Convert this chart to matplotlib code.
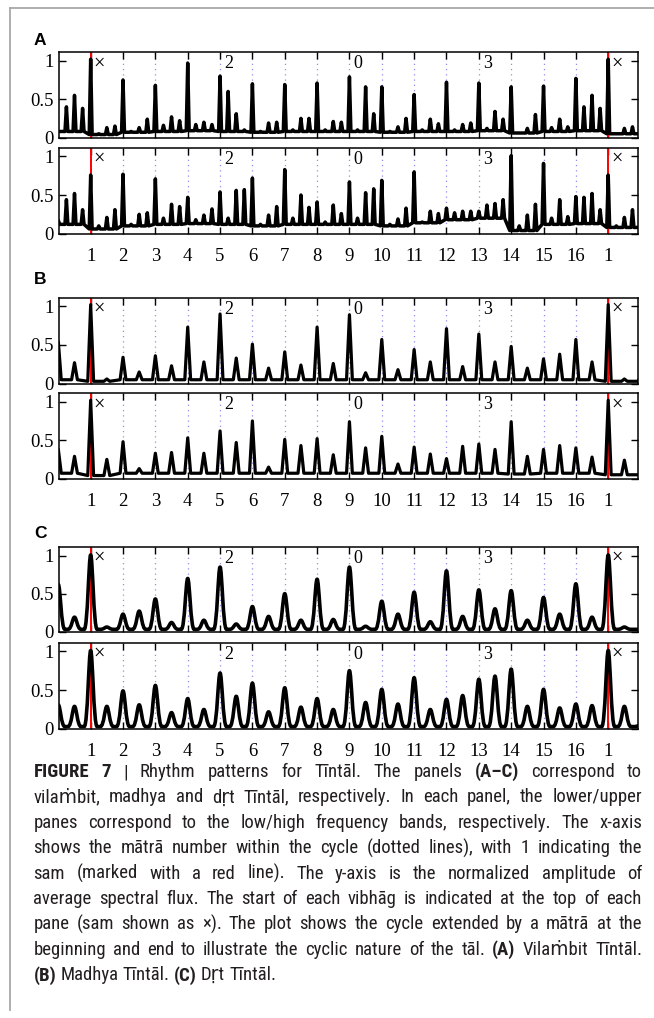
import matplotlib
matplotlib.use("Agg")
import matplotlib.pyplot as plt
from matplotlib import font_manager
from matplotlib.lines import Line2D
from matplotlib.path import Path
from matplotlib.patches import PathPatch

# ---- data ---------------------------------------------------------------
# peak heights on a grid of matra positions starting at 0
# vilambit: quarter-matra grid (0, .25, ... 18)
a_high = [0.08, 0.40, 0.55, 0.38,  1.02, 0.05, 0.13, 0.15,  0.75, 0.08, 0.13, 0.24,
          0.68, 0.16, 0.27, 0.22,  0.97, 0.17, 0.20, 0.17,  0.80, 0.60, 0.31, 0.10,
          0.70, 0.08, 0.19, 0.20,  0.69, 0.10, 0.25, 0.25,  0.71, 0.10, 0.21, 0.20,
          0.79, 0.10, 0.66, 0.31,  0.66, 0.08, 0.14, 0.25,  0.56, 0.10, 0.24, 0.18,
          0.72, 0.10, 0.17, 0.19,  0.71, 0.12, 0.34, 0.24,  0.66, 0.06, 0.12, 0.30,
          0.67, 0.13, 0.24, 0.14,  0.77, 0.40, 0.55, 0.38,  1.02, 0.05, 0.12, 0.14,
          0.10]
a_low = [0.17, 0.44, 0.52, 0.31,  0.76, 0.10, 0.21, 0.31,  0.77, 0.12, 0.25, 0.27,
         0.71, 0.20, 0.38, 0.35,  0.47, 0.18, 0.24, 0.32,  0.54, 0.20, 0.56, 0.57,
         0.72, 0.12, 0.24, 0.35,  0.83, 0.20, 0.50, 0.34,  0.41, 0.15, 0.37, 0.26,
         0.67, 0.20, 0.53, 0.58,  0.69, 0.12, 0.19, 0.33,  0.80, 0.15, 0.29, 0.26,
         0.33, 0.27, 0.29, 0.29,  0.29, 0.37, 0.39, 0.44,  1.01, 0.10, 0.24, 0.38,
         0.91, 0.20, 0.44, 0.22,  0.48, 0.47, 0.52, 0.31,  0.76, 0.10, 0.21, 0.31,
         0.15]
# madhya and drut: half-matra grid (0, .5, ... 18)
b_high = [0.54, 0.27, 1.02, 0.06, 0.34, 0.15, 0.36, 0.23, 0.73, 0.28, 0.90, 0.33,
          0.51, 0.20, 0.41, 0.24, 0.73, 0.26, 0.89, 0.14, 0.57, 0.18, 0.44, 0.28,
          0.71, 0.22, 0.64, 0.28, 0.48, 0.20, 0.32, 0.38, 0.57, 0.28, 1.02, 0.06,
          0.08]
b_low = [0.38, 0.29, 1.02, 0.25, 0.48, 0.13, 0.33, 0.34, 0.53, 0.33, 0.62, 0.47,
         0.75, 0.15, 0.51, 0.43, 0.52, 0.31, 0.74, 0.40, 0.55, 0.19, 0.41, 0.32,
         0.26, 0.42, 0.45, 0.38, 0.74, 0.29, 0.38, 0.43, 0.40, 0.28, 1.02, 0.24,
         0.05]
c_high = [0.62, 0.19, 1.01, 0.06, 0.23, 0.27, 0.43, 0.12, 0.70, 0.15, 0.85, 0.10,
          0.33, 0.20, 0.50, 0.15, 0.69, 0.16, 0.85, 0.07, 0.40, 0.23, 0.52, 0.13,
          0.80, 0.20, 0.55, 0.30, 0.54, 0.15, 0.45, 0.23, 0.63, 0.19, 1.01, 0.06,
          0.03]
c_low = [0.31, 0.29, 1.01, 0.29, 0.49, 0.31, 0.56, 0.21, 0.39, 0.25, 0.72, 0.42,
         0.59, 0.22, 0.53, 0.28, 0.39, 0.25, 0.75, 0.34, 0.51, 0.32, 0.66, 0.25,
         0.38, 0.43, 0.64, 0.68, 0.77, 0.29, 0.51, 0.27, 0.32, 0.30, 1.01, 0.29,
         0.05]

# trough level between peaks, one value per matra (0..17)
a_high_floor = [0.08, 0.04, 0.07, 0.08, 0.09, 0.08, 0.07, 0.08, 0.08, 0.08, 0.07, 0.08,
                0.08, 0.09, 0.06, 0.08, 0.09, 0.05]
a_low_floor = [0.12, 0.06, 0.10, 0.12, 0.13, 0.12, 0.10, 0.12, 0.12, 0.12, 0.10, 0.14,
               0.18, 0.20, 0.04, 0.12, 0.13, 0.08]
b_high_floor = [0.05, 0.03, 0.05, 0.05, 0.05, 0.05, 0.05, 0.05, 0.05, 0.05, 0.05, 0.05,
                0.05, 0.05, 0.05, 0.05, 0.05, 0.03]
b_low_floor = [0.07, 0.04, 0.07, 0.07, 0.07, 0.07, 0.07, 0.07, 0.07, 0.07, 0.07, 0.07,
               0.07, 0.07, 0.06, 0.07, 0.07, 0.05]
c_high_floor = [0.03] * 18
c_low_floor = [0.03] * 18

matra_ticks = list(range(1, 18))
matra_labels = [str(i) for i in range(1, 17)] + ["1"]
vibhag_pos = [1, 5, 9, 13, 17]
vibhag_marks = ["\u00d7", "2", "0", "3", "\u00d7"]
sam_pos = [1, 17]

caption = [
    "*FIGURE *7 | Rhythm patterns for T\u012bnt\u0101l. The panels *(A\u2013C) correspond to",
    "vila\u1e41bit, madhya and d\u1e5bt T\u012bnt\u0101l, respectively. In each panel, the lower/upper",
    "panes correspond to the low/high frequency bands, respectively. The x-axis",
    "shows the m\u0101tr\u0101 number within the cycle (dotted lines), with 1 indicating the",
    "sam (marked with a red line). The y-axis is the normalized amplitude of",
    "average spectral flux. The start of each vibh\u0101g is indicated at the top of each",
    "pane (sam shown as \u00d7). The plot shows the cycle extended by a m\u0101tr\u0101 at the",
    "beginning and end to illustrate the cyclic nature of the t\u0101l. *(A) Vila\u1e41bit T\u012bnt\u0101l.",
    "*(B) Madhya T\u012bnt\u0101l. *(C) D\u1e5bt T\u012bnt\u0101l.",
]

# ---- figure --------------------------------------------------------------
W, H = 654, 1018
fig = plt.figure(figsize=(W / 100, H / 100), dpi=100)
serif = ["Liberation Serif", "DejaVu Serif"]


def spike_path(heights, floor, step, half_w, smooth):
    verts, codes = [], []
    for i, h in enumerate(heights):
        x = i * step
        f = floor[min(int(x), len(floor) - 1)]
        first = not verts
        if h <= f:
            verts.append((x, f))
            codes.append(Path.MOVETO if first else Path.LINETO)
            continue
        verts.append((x - half_w, f))
        codes.append(Path.MOVETO if first else Path.LINETO)
        if smooth:
            verts += [(x - 0.45 * half_w, f), (x - 0.3 * half_w, h), (x, h),
                      (x + 0.3 * half_w, h), (x + 0.45 * half_w, f), (x + half_w, f)]
            codes += [Path.CURVE4] * 6
        else:
            verts += [(x, h), (x + half_w, f)]
            codes += [Path.LINETO] * 2
    return Path(verts, codes)


def pane(top, bottom, heights, floor, step, half_w, lw, xlabels, smooth=False):
    ax = fig.add_axes([59.3 / W, 1 - bottom / H, (638.3 - 59.3) / W, (bottom - top) / H])
    for k in range(2, 17):
        ax.axvline(k, color="#8f8ff0", ls=(0, (1, 3.2)), lw=0.9, zorder=1)
    for k in sam_pos:
        ax.axvline(k, color="red", lw=1.4, zorder=2)
    path = spike_path(heights, floor, step, half_w, smooth)
    ax.add_patch(PathPatch(path, facecolor="none", edgecolor="black", lw=lw,
                           joinstyle="round", capstyle="round", zorder=3))
    for x, m in zip(vibhag_pos, vibhag_marks):
        ax.text(x + 0.27, 0.96, m, ha="center", va="center",
                fontsize=14.5 if m == "\u00d7" else 13, family=serif, zorder=4)
    ax.set_xlim(0.03, 17.93)
    ax.set_ylim(-0.005, 1.11)
    ax.set_xticks(matra_ticks)
    ax.set_xticklabels(matra_labels if xlabels else [])
    ax.set_yticks([0, 0.5, 1])
    ax.set_yticklabels(["0", "0.5", "1"])
    ax.tick_params(direction="in", top=True, right=True, length=5, width=1,
                   labelsize=13.5)
    ax.tick_params(axis="x", pad=10)
    ax.tick_params(axis="y", pad=4)
    for lab in ax.get_xticklabels() + ax.get_yticklabels():
        lab.set_family(serif)
    for s in ax.spines.values():
        s.set_linewidth(1.1)
    return ax


pane(52.3, 138, a_high, a_high_floor, 0.25, 0.045, 2.5, False)
pane(148, 234, a_low, a_low_floor, 0.25, 0.045, 2.5, True)
pane(297.7, 384, b_high, b_high_floor, 0.5, 0.09, 2.3, False)
pane(393.3, 479, b_low, b_low_floor, 0.5, 0.09, 2.3, True)
pane(547.3, 632, c_high, c_high_floor, 0.5, 0.2, 2.6, False, smooth=True)
pane(642.7, 729.3, c_low, c_low_floor, 0.5, 0.2, 2.6, True, smooth=True)

sans = ["Liberation Sans", "DejaVu Sans"]
for lab, base in zip("ABC", [45, 284.3, 538.3]):
    fig.text(34 / W, 1 - base / H, lab, fontsize=12.5, fontweight="bold",
             family=sans, va="baseline")

# frame
fig.add_artist(Line2D([9.5 / W, 9.5 / W], [1 - 8 / H, 1 - 1010 / H],
                      color="#a8a8a8", lw=1.3))
fig.add_artist(Line2D([9.5 / W, 1.0], [1 - 8 / H, 1 - 8 / H], color="#a8a8a8", lw=1.3))

# caption: pick a narrow sans if one is installed, justify word by word
entries = font_manager.fontManager.ttflist
cap_font, cap_stretch = "Liberation Sans", "normal"
for f in entries:
    if f.name in ("Liberation Sans Narrow", "Roboto Condensed", "Open Sans Condensed"):
        cap_font, cap_stretch = f.name, "normal"
        break
else:
    for f in entries:
        if f.name in ("Noto Sans", "DejaVu Sans", "Open Sans") and "condensed" in str(f.stretch) \
                and "semi" not in str(f.stretch) and "extra" not in str(f.stretch):
            cap_font, cap_stretch = f.name, "condensed"
            break
cap_fam = [cap_font, "DejaVu Sans"]
renderer = fig.canvas.get_renderer()
x0, x1 = 33.5, 642.0
y_first, dy = 772.0, 25.4


def width(txt, bold, size):
    t = fig.text(0, 0, txt, fontsize=size, family=cap_fam, fontstretch=cap_stretch,
                 fontweight="bold" if bold else "normal")
    w = t.get_window_extent(renderer).width
    t.remove()
    return w


def tokens(line):
    return [(w.lstrip("*"), w.startswith("*")) for w in line.split(" ")]


# size so that the longest line just fits with ordinary spaces
probe = 10.0
sp0 = width("a a", False, probe) - width("aa", False, probe)
longest = max(sum(width(w, b, probe) for w, b in tokens(l)) + sp0 * (len(tokens(l)) - 1)
              for l in caption[:-1])
cap_size = min(13.5, probe * (x1 - x0) / longest * 0.985)

space = width("a a", False, cap_size) - width("aa", False, cap_size)
for i, line in enumerate(caption):
    words = tokens(line)
    ws = [width(w, b, cap_size) for w, b in words]
    last = i == len(caption) - 1
    gap = space if last else (x1 - x0 - sum(ws)) / (len(words) - 1)
    x = x0
    y = y_first + i * dy
    for (w, b), wd in zip(words, ws):
        fig.text(x / W, 1 - y / H, w, fontsize=cap_size, family=cap_fam,
                 fontstretch=cap_stretch, fontweight="bold" if b else "normal",
                 va="center", color="#231f20")
        x += wd + gap

fig.savefig("out.png", dpi=100)
